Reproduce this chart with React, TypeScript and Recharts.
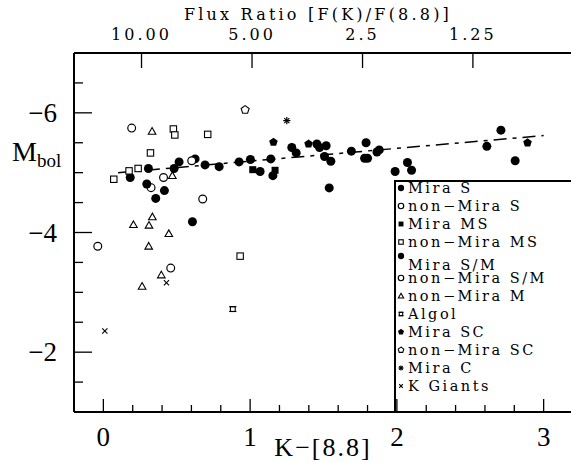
import { ScatterChart, Scatter, XAxis, YAxis, Legend } from 'recharts'

type Pt = { x: number; y: number }

// K-[8.8] vs Mbol
const MIRA_S: Pt[] = [
  { x: 0.183, y: -4.92 }, { x: 0.307, y: -5.07 }, { x: 0.482, y: -5.07 }, { x: 0.516, y: -5.18 },
  { x: 0.625, y: -5.23 }, { x: 0.693, y: -5.13 }, { x: 0.789, y: -5.1 }, { x: 0.925, y: -5.18 },
  { x: 1.002, y: -5.22 }, { x: 1.068, y: -5.02 }, { x: 1.141, y: -5.23 }, { x: 1.155, y: -4.95 },
  { x: 1.284, y: -5.42 }, { x: 1.314, y: -5.33 }, { x: 1.455, y: -5.48 }, { x: 1.473, y: -5.42 },
  { x: 1.518, y: -5.45 }, { x: 1.507, y: -5.27 }, { x: 1.55, y: -5.19 }, { x: 1.69, y: -5.36 },
  { x: 1.79, y: -5.5 }, { x: 1.78, y: -5.24 }, { x: 1.8, y: -5.24 }, { x: 1.864, y: -5.345 },
  { x: 1.88, y: -5.38 }, { x: 1.988, y: -5.02 }, { x: 2.072, y: -5.17 }, { x: 2.1, y: -5.04 },
  { x: 2.613, y: -5.44 }, { x: 2.709, y: -5.71 }, { x: 2.806, y: -5.2 },
]
const NON_MIRA_S: Pt[] = [
  { x: 0.193, y: -5.745 }, { x: 0.41, y: -4.92 }, { x: 0.325, y: -4.75 }, { x: 0.677, y: -4.56 },
  { x: 0.602, y: -5.2 },
]
const MIRA_MS: Pt[] = [{ x: 1.018, y: -5.05 }, { x: 1.17, y: -5.04 }]
const NON_MIRA_MS: Pt[] = [
  { x: 0.071, y: -4.89 }, { x: 0.175, y: -5.03 }, { x: 0.237, y: -5.07 }, { x: 0.321, y: -5.33 },
  { x: 0.477, y: -5.73 }, { x: 0.487, y: -5.63 }, { x: 0.711, y: -5.64 }, { x: 0.932, y: -3.605 },
]
const MIRA_SM: Pt[] = [
  { x: 0.296, y: -4.81 }, { x: 0.357, y: -4.57 }, { x: 0.416, y: -4.7 }, { x: 0.607, y: -4.18 },
  { x: 1.539, y: -4.745 },
]
const NON_MIRA_SM: Pt[] = [{ x: -0.038, y: -3.77 }, { x: 0.459, y: -3.405 }]
const NON_MIRA_M: Pt[] = [
  { x: 0.332, y: -5.69 }, { x: 0.47, y: -4.95 }, { x: 0.334, y: -4.26 }, { x: 0.205, y: -4.13 },
  { x: 0.311, y: -4.12 }, { x: 0.446, y: -3.98 }, { x: 0.309, y: -3.77 }, { x: 0.395, y: -3.29 },
  { x: 0.264, y: -3.1 },
]
const ALGOL: Pt[] = [{ x: 0.882, y: -2.72 }]
const MIRA_SC: Pt[] = [{ x: 1.159, y: -5.51 }, { x: 1.398, y: -5.48 }, { x: 2.89, y: -5.5 }]
const NON_MIRA_SC: Pt[] = [{ x: 0.966, y: -6.05 }]
const MIRA_C: Pt[] = [{ x: 1.25, y: -5.87 }]
const K_GIANTS: Pt[] = [{ x: 0.43, y: -3.16 }, { x: 0.01, y: -2.355 }]

// end points of the dashed fit
const FIT_X = [0.1, 3.0]
const FIT_Y = [-5.0, -5.62]

const X_TICKS = [0, 0.2, 0.4, 0.6, 0.8, 1, 1.2, 1.4, 1.6, 1.8, 2, 2.2, 2.4, 2.6, 2.8, 3, 3.2]
const Y_TICKS = [-7, -6.5, -6, -5.5, -5, -4.5, -4, -3.5, -3, -2.5, -2, -1.5, -1]
const FLUX_TICKS = [0.26, 1.013, 1.766, 2.518]
const FLUX_LABELS = ['10.00', '5.00', '2.5', '1.25']

const FIT = FIT_X.map((x, i) => ({ x, y: FIT_Y[i] }))

const SERIES = [
  { name: 'Mira S', data: MIRA_S, kind: 'fcircle' },
  { name: 'non−Mira S', data: NON_MIRA_S, kind: 'ocircle' },
  { name: 'Mira MS', data: MIRA_MS, kind: 'fsquare' },
  { name: 'non−Mira MS', data: NON_MIRA_MS, kind: 'osquare' },
  { name: 'Mira S/M', data: MIRA_SM, kind: 'fcircle' },
  { name: 'non−Mira S/M', data: NON_MIRA_SM, kind: 'ocircle' },
  { name: 'non−Mira M', data: NON_MIRA_M, kind: 'otri' },
  { name: 'Algol', data: ALGOL, kind: 'algol' },
  { name: 'Mira SC', data: MIRA_SC, kind: 'fpent' },
  { name: 'non−Mira SC', data: NON_MIRA_SC, kind: 'opent' },
  { name: 'Mira C', data: MIRA_C, kind: 'star' },
  { name: 'K Giants', data: K_GIANTS, kind: 'xcross' },
]

const SERIF = '"DejaVu Serif", serif'
const TIMES = '"Liberation Serif", serif'

function pent(cx: number, cy: number, r: number) {
  const pts = []
  for (let i = 0; i < 5; i++) {
    const a = -Math.PI / 2 + (i * 2 * Math.PI) / 5
    pts.push(`${cx + r * Math.cos(a)},${cy + r * Math.sin(a)}`)
  }
  return pts.join(' ')
}

function Sym({ kind, cx, cy, s = 1 }: { kind: string; cx: number; cy: number; s?: number }) {
  const k = '#000'
  switch (kind) {
    case 'fcircle':
      return <circle cx={cx} cy={cy} r={4.5 * s} fill={k} />
    case 'ocircle':
      return <circle cx={cx} cy={cy} r={3.9 * s} fill="#fff" stroke={k} strokeWidth={1.2} />
    case 'fsquare':
      return <rect x={cx - 3.5 * s} y={cy - 3.5 * s} width={7 * s} height={7 * s} fill={k} />
    case 'osquare':
      return <rect x={cx - 3.2 * s} y={cy - 3.2 * s} width={6.4 * s} height={6.4 * s} fill="#fff" stroke={k} strokeWidth={1.1} />
    case 'otri': {
      const r = 3.8 * s
      return (
        <polygon
          points={`${cx},${cy - r} ${cx + r},${cy + r * 0.75} ${cx - r},${cy + r * 0.75}`}
          fill="#fff" stroke={k} strokeWidth={1.1}
        />
      )
    }
    case 'algol': {
      const r = 2.4 * s
      const e = 3.6 * s
      return (
        <g stroke={k} strokeWidth={1.1} fill="none">
          <rect x={cx - r} y={cy - r} width={2 * r} height={2 * r} />
          <line x1={cx - e} y1={cy - r} x2={cx + e} y2={cy - r} />
          <line x1={cx - e} y1={cy + r} x2={cx + e} y2={cy + r} />
        </g>
      )
    }
    case 'fpent':
      return <polygon points={pent(cx, cy, 4.5 * s)} fill={k} />
    case 'opent':
      return <polygon points={pent(cx, cy, 4.2 * s)} fill="#fff" stroke={k} strokeWidth={1.1} />
    case 'star': {
      const r = 3.6 * s
      return (
        <g stroke={k} strokeWidth={1.2}>
          {[0, 45, 90, 135].map(d => {
            const a = (d * Math.PI) / 180
            return <line key={d} x1={cx - r * Math.cos(a)} y1={cy - r * Math.sin(a)} x2={cx + r * Math.cos(a)} y2={cy + r * Math.sin(a)} />
          })}
        </g>
      )
    }
    case 'xcross': {
      const r = 2.6 * s
      return (
        <g stroke={k} strokeWidth={1.1}>
          <line x1={cx - r} y1={cy - r} x2={cx + r} y2={cy + r} />
          <line x1={cx - r} y1={cy + r} x2={cx + r} y2={cy - r} />
        </g>
      )
    }
  }
  return null
}

const BottomTick = (props: any) => {
  const { x, y, payload } = props
  const v = payload.value
  const major = Math.abs(v - Math.round(v)) < 1e-6
  return (
    <g>
      <line x1={x} x2={x} y1={y} y2={y - (major ? 13 : 7)} stroke="#000" strokeWidth={1.3} />
      {major && (
        <text x={x} y={y + 34} textAnchor="middle" fontFamily={TIMES} fontSize={27} fill="#000">
          {Math.round(v)}
        </text>
      )}
    </g>
  )
}

const LeftTick = (props: any) => {
  const { x, y, payload } = props
  const v = payload.value
  const major = Math.abs(v % 2) < 1e-6
  return (
    <g>
      <line x1={x} x2={x + (major ? 18 : 9)} y1={y} y2={y} stroke="#000" strokeWidth={1.3} />
      {major && (
        <text x={x - 17} y={y + 9} textAnchor="end" fontFamily={TIMES} fontSize={27} fill="#000">
          {`−${Math.abs(v)}`}
        </text>
      )}
    </g>
  )
}

const TopTick = (props: any) => {
  const { x, y, payload, index } = props
  return (
    <g>
      <line x1={x} x2={x} y1={y} y2={y + 15} stroke="#000" strokeWidth={1.3} />
      <text x={x} y={y - 13} textAnchor="middle" fontFamily={SERIF} fontSize={16} letterSpacing={3} fill="#000">
        {FLUX_LABELS[index] ?? payload.value}
      </text>
    </g>
  )
}

function LegendBox() {
  return (
    <svg width={181} height={232} style={{ display: 'block' }}>
      <line x1={1} y1={0} x2={1} y2={232} stroke="#000" strokeWidth={2} />
      <line x1={0} y1={1} x2={181} y2={1} stroke="#000" strokeWidth={2} />
      {SERIES.map((s, i) => {
        const cy = 7 + i * 18 + (i === 4 ? 5 : 0)
        return (
          <g key={s.name}>
            <Sym kind={s.kind} cx={7} cy={cy + (i === 4 ? -8 : 1)} s={0.7} />
            <text x={14} y={cy + 6} fontFamily={SERIF} fontSize={14.5} letterSpacing={2.5} fill="#000">
              {s.name}
            </text>
          </g>
        )
      })}
    </svg>
  )
}

export default function App() {
  return (
    <div style={{ position: 'absolute', left: 0, top: 0, width: 571, height: 463, overflow: 'hidden', background: '#fff' }}>
      <ScatterChart width={575} height={463} margin={{ top: 20, right: 2, bottom: 0, left: 0 }}>
        <XAxis
          xAxisId={0}
          type="number"
          dataKey="x"
          domain={[-0.2, 3.2]}
          ticks={X_TICKS}
          interval={0}
          height={51}
          tickSize={0}
          tickMargin={0}
          tick={<BottomTick />}
          axisLine={{ stroke: '#000', strokeWidth: 2 }}
          allowDataOverflow
          label={{
            content: () => (
              <text x={323} y={456} textAnchor="middle" fontFamily={TIMES} fontSize={26} letterSpacing={2} fill="#000">
                K−[8.8]
              </text>
            ),
          }}
        />
        <XAxis
          xAxisId="top"
          orientation="top"
          type="number"
          dataKey="x"
          domain={[-0.2, 3.2]}
          ticks={FLUX_TICKS}
          interval={0}
          height={33}
          tickSize={0}
          tickMargin={0}
          tick={<TopTick />}
          axisLine={{ stroke: '#000', strokeWidth: 2 }}
          allowDataOverflow
          label={{
            content: () => (
              <text x={318} y={20} textAnchor="middle" fontFamily={SERIF} fontSize={16} letterSpacing={3.2} fill="#000">
                Flux Ratio [F(K)/F(8.8)]
              </text>
            ),
          }}
        />
        <YAxis
          type="number"
          dataKey="y"
          domain={[-7, -1]}
          reversed
          ticks={Y_TICKS}
          interval={0}
          width={74}
          tickSize={0}
          tickMargin={0}
          tick={<LeftTick />}
          axisLine={{ stroke: '#000', strokeWidth: 2 }}
          allowDataOverflow
          label={{
            content: () => (
              <text x={12} y={161} fontFamily={TIMES} fontSize={28} fill="#000">
                M<tspan fontSize={19} dy={6}>bol</tspan>
              </text>
            ),
          }}
        />
        <Scatter
          name="fit"
          xAxisId="top"
          data={FIT}
          isAnimationActive={false}
          line={{ stroke: '#000', strokeWidth: 1.5, strokeDasharray: '13 6 4 6' }}
          shape={() => <g />}
        />
        {SERIES.map(s => (
          <Scatter
            key={s.name}
            name={s.name}
            data={s.data}
            isAnimationActive={false}
            shape={(p: any) => <Sym kind={s.kind} cx={p.cx} cy={p.cy} />}
          />
        ))}
        <Legend
          layout="vertical"
          align="center"
          verticalAlign="middle"
          wrapperStyle={{ left: 394, top: 180, width: 181, height: 232 }}
          content={() => <LegendBox />}
        />
      </ScatterChart>
    </div>
  )
}
